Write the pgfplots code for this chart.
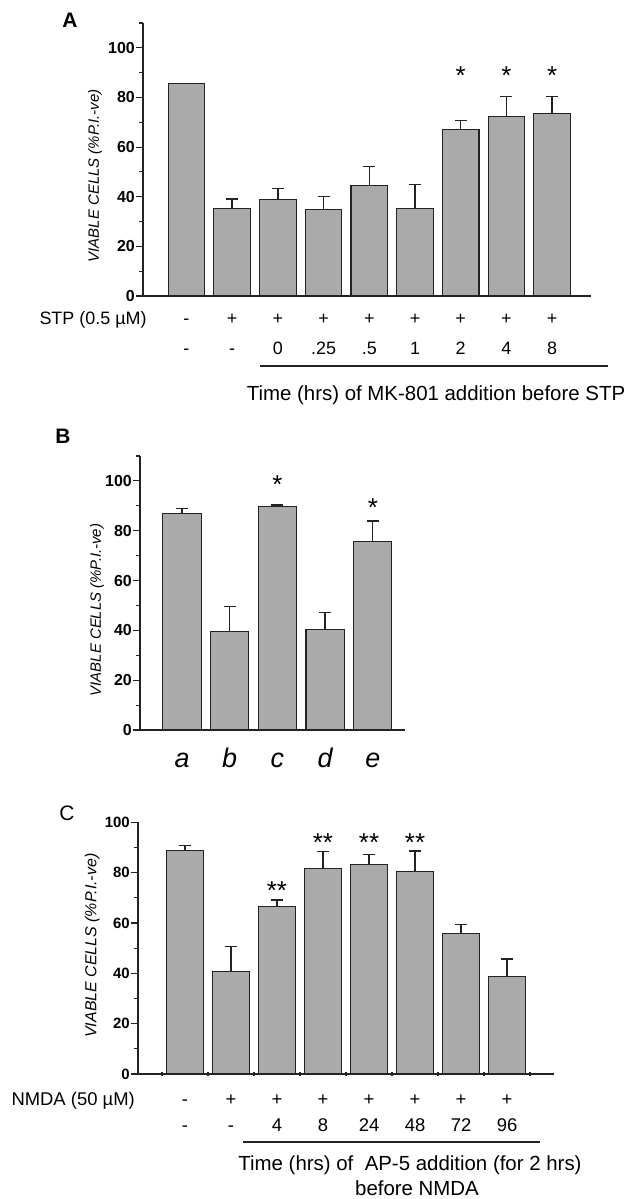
\documentclass[border=0pt]{standalone}
\usepackage{pgfplots}
\pgfplotsset{compat=1.18}
\usepackage{fontspec}
\setmainfont{Liberation Sans}
\definecolor{barfill}{RGB}{170,170,170}
\definecolor{edge}{RGB}{35,35,35}
% two-row tick label: treatment row over time row
\newcommand\tl[2]{\strut#1\\\strut#2}

\pgfplotsset{
  panel/.style={
    scale only axis, axis lines*=left, clip=false,
    axis line style={line width=1.3bp, edge},
    ymin=0, tick align=outside, major tick length=7bp, minor tick length=4bp,
    ytick={0,20,...,100}, minor ytick={10,30,...,110},
    tick style={line width=1.1bp, edge},
    xtick style={draw=none},
    /pgf/number format/assume math mode=true,
    yticklabel style={font=\bfseries\fontsize{16}{16}\selectfont, inner sep=1bp},
    ylabel style={font=\itshape\fontsize{15}{15}\selectfont, anchor=center},
  },
  bars/.style={ybar, bar width=0.8, fill=barfill, draw=edge, line width=1.1bp,
    /pgfplots/error bars/y dir=plus, /pgfplots/error bars/y explicit,
    /pgfplots/error bars/error bar style={line width=1.3bp, edge},
    /pgfplots/error bars/error mark options={rotate=90, line width=1.3bp, mark size=6bp, edge}},
  stars/.style={only marks, mark=text, text mark={#1}, text mark as node=true,
    text mark style={font=\fontsize{26}{26}\selectfont, anchor=north, inner sep=0pt}},
}

\begin{document}
\begin{tikzpicture}
\useasboundingbox (0,0) rectangle (638bp,-1199bp);

% ---------------- A ----------------
\begin{axis}[panel, at={(143bp,-296bp)}, anchor=south west, width=448bp, height=273bp,
  xmin=-0.95, xmax=8.85, ymax=110,
  xtick={0,...,8},
  xticklabels={\tl{-}{-},\tl{+}{-},\tl{+}{0},\tl{+}{.25},\tl{+}{.5},\tl{+}{1},\tl{+}{2},\tl{+}{4},\tl{+}{8}},
  xticklabel style={align=center, font=\fontsize{18}{30}\selectfont, yshift=3bp},
  ylabel={VIABLE CELLS (\%P.I.-ve)},
  ylabel style={at={(axis description cs:-0.107,0.44)}},
]
\addplot[bars] coordinates {
  (0,85.5) +- (0,0)
  (1,35.1) +- (0,4.0)
  (2,39.0) +- (0,4.4)
  (3,34.7) +- (0,5.3)
  (4,44.6) +- (0,7.5)
  (5,35.3) +- (0,9.5)
  (6,67.2) +- (0,3.6)
  (7,72.3) +- (0,8.1)
  (8,73.5) +- (0,6.9)
};
\addplot[stars={*}] coordinates {(6,92.5) (7,92.5) (8,92.5)};
\end{axis}
\node[anchor=base west, font=\fontsize{18}{18}\selectfont] at (36bp,-324bp) {STP (0.5 µM)};
\draw[line width=2bp, edge] (260bp,-366bp) -- (608bp,-366bp);
\node[anchor=base, font=\fontsize{20.5}{20.5}\selectfont] at (436bp,-400bp) {Time (hrs) of MK-801 addition before STP};
\node[font=\bfseries\fontsize{21}{21}\selectfont] at (70bp,-20bp) {A};

% ---------------- B ----------------
\begin{axis}[panel, at={(140bp,-730bp)}, anchor=south west, width=265bp, height=274bp,
  xmin=-0.88, xmax=4.675, ymax=110,
  xtick={0,...,4}, xticklabels={a,b,c,d,e},
  xticklabel style={font=\itshape\fontsize{27}{27}\selectfont, text height=20bp, text depth=0bp, yshift=-7bp},
  ylabel={VIABLE CELLS (\%P.I.-ve)},
  ylabel style={at={(axis description cs:-0.162,0.438)}},
]
\addplot[bars] coordinates {
  (0,86.9) +- (0,1.9)
  (1,39.6) +- (0,10.1)
  (2,89.9) +- (0,0.4)
  (3,40.3) +- (0,6.9)
  (4,75.8) +- (0,8.1)
};
\addplot[stars={*}] coordinates {(2,102) (4,92.8)};
\end{axis}
\node[font=\bfseries\fontsize{21}{21}\selectfont] at (63bp,-436bp) {B};

% ---------------- C ----------------
\begin{axis}[panel, at={(138bp,-1074bp)}, anchor=south west, width=416bp, height=251.7bp,
  xmin=-1.02, xmax=8.02, ymax=100, minor ytick={10,30,...,90},
  xtick={0,...,7},
  xticklabels={\tl{-}{-},\tl{+}{-},\tl{+}{4},\tl{+}{8},\tl{+}{24},\tl{+}{48},\tl{+}{72},\tl{+}{96}},
  xticklabel style={align=center, font=\fontsize{18.5}{26}\selectfont, yshift=-3bp},
  extra x ticks={-0.5,0.5,...,7.5}, extra x tick labels={},
  extra x tick style={xtick style={draw=edge, line width=1.5bp}, tick align=center, major tick length=4bp},
  yticklabel style={font=\bfseries\fontsize{15}{15}\selectfont},
  ylabel={VIABLE CELLS (\%P.I.-ve)},
  ylabel style={at={(axis description cs:-0.11,0.51)}, font=\itshape\fontsize{16}{16}\selectfont},
]
\addplot[bars] coordinates {
  (0,88.7) +- (0,2.0)
  (1,40.8) +- (0,9.8)
  (2,66.7) +- (0,2.4)
  (3,81.8) +- (0,6.5)
  (4,83.4) +- (0,3.9)
  (5,80.4) +- (0,8.2)
  (6,55.9) +- (0,3.6)
  (7,38.9) +- (0,6.8)
};
\addplot[stars={**}] coordinates {(2,76.5) (3,95.7) (4,95.7) (5,95.7)};
\end{axis}
\node[anchor=base west, font=\fontsize{18.5}{18.5}\selectfont] at (8bp,-1105.5bp) {NMDA (50 µM)};
\draw[line width=2bp, edge] (243bp,-1142bp) -- (540bp,-1142bp);
\node[anchor=base, font=\fontsize{20.5}{20.5}\selectfont] at (410bp,-1170bp) {Time (hrs) of\ \ AP-5 addition (for 2 hrs)};
\node[anchor=base, font=\fontsize{20.5}{20.5}\selectfont] at (417bp,-1195bp) {before NMDA};
\node[font=\fontsize{21}{21}\selectfont] at (67bp,-813bp) {C};
\end{tikzpicture}
\end{document}
